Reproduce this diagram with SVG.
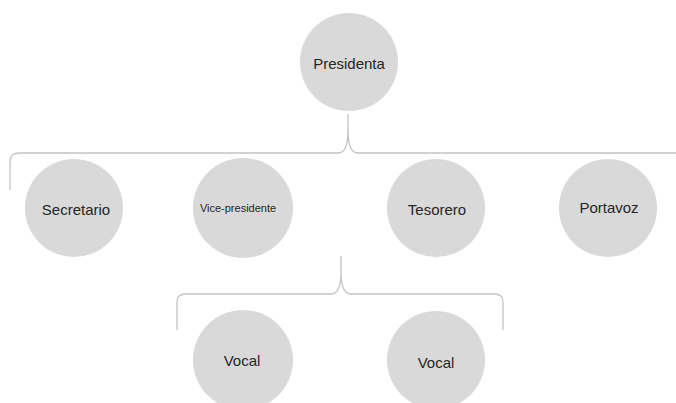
<svg xmlns="http://www.w3.org/2000/svg" width="676" height="403" viewBox="0 0 676 403">
<style>
.n{fill:#d9d9d9}
.t{font-family:"Liberation Sans",Arial,sans-serif;font-size:15px;fill:#262626;text-anchor:middle}
.s{font-size:11px}
.c{fill:none;stroke:#c4c4c4;stroke-width:1.3}
</style>
<rect width="676" height="403" fill="#fff"/>
<g id="connectors">
<path class="c" d="M10,190 L10,162 C10,156 13,153 19,153 L338,153 C345,153 348,146 348,128 L348,114 M348,128 C348,146 351,153 358,153 L676,153"/>
<path class="c" d="M177,330 L177,302 C177,297 180,294 186,294 L331,294 C338,294 341,287 341,272 L341,256 M341,272 C341,287 344,294 351,294 L494,294 C500,294 503,297 503,302 L503,330"/>
</g>
<g id="presidenta"><circle class="n" cx="349" cy="62" r="49"/><text class="t" x="349" y="69">Presidenta</text></g>
<g id="secretario"><circle class="n" cx="74" cy="208" r="49"/><text class="t" x="76" y="215">Secretario</text></g>
<g id="vicepresidente"><circle class="n" cx="243" cy="208" r="50"/><text class="t s" x="238" y="212">Vice-presidente</text></g>
<g id="tesorero"><circle class="n" cx="436" cy="208" r="49"/><text class="t" x="437" y="215">Tesorero</text></g>
<g id="portavoz"><circle class="n" cx="608" cy="208" r="49"/><text class="t" x="609" y="213">Portavoz</text></g>
<g id="vocal1"><circle class="n" cx="243" cy="360" r="50"/><text class="t" x="242" y="366">Vocal</text></g>
<g id="vocal2"><circle class="n" cx="436" cy="360" r="49"/><text class="t" x="436" y="368">Vocal</text></g>
</svg>
